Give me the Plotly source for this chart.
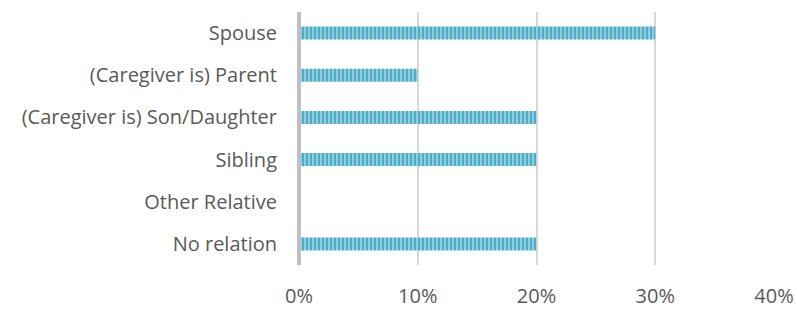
import plotly.graph_objects as go

categories = ["Spouse", "(Caregiver is) Parent", "(Caregiver is) Son/Daughter",
              "Sibling", "Other Relative", "No relation"]
values = [0.30, 0.10, 0.20, 0.20, 0.0, 0.20]
x_ticks = [0, 0.1, 0.2, 0.3, 0.4]
x_tick_labels = ["0%", "10%", "20%", "30%", "40%"]

fig = go.Figure(go.Bar(
    y=categories, x=values, orientation="h", width=0.31,
    marker=dict(color="#4BACC6", line=dict(width=0),
                pattern=dict(shape="|", fgcolor="#93CDDD", bgcolor="#4AADC9",
                             size=4, solidity=0.5, fillmode="replace")),
))
fig.update_layout(
    width=797, height=309,
    margin=dict(l=299, r=23, t=12, b=44),
    paper_bgcolor="white", plot_bgcolor="white",
    font=dict(family="Open Sans", size=20, color="#595959"),
    showlegend=False,
)
fig.update_xaxes(range=[0, 0.4], tickvals=x_ticks, ticktext=x_tick_labels,
                 showgrid=True, gridcolor="#D9D9D9", gridwidth=1.5,
                 zeroline=False, showline=False, ticks="outside", ticklen=13,
                 tickcolor="rgba(0,0,0,0)", tickfont=dict(size=20),
                 automargin=False)
fig.update_yaxes(autorange="reversed", showgrid=False, zeroline=False,
                 ticks="outside", ticklen=17, tickcolor="rgba(0,0,0,0)",
                 tickfont=dict(size=20), automargin=False)
fig.add_shape(type="line", xref="paper", yref="paper", x0=0, x1=0, y0=0, y1=1,
              line=dict(color="#BFBFBF", width=4), layer="above")
fig.write_html("out.html", config={"displayModeBar": False},
               post_script="document.body.style.margin='0';")
